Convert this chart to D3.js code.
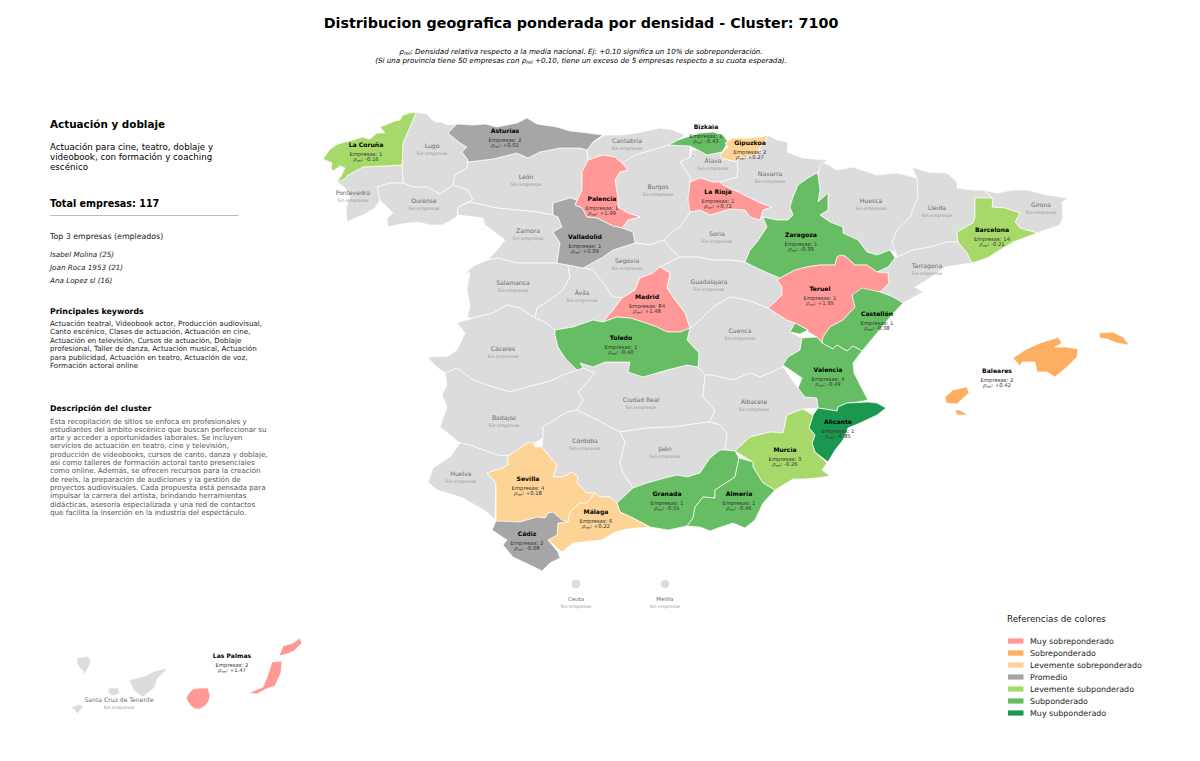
<!DOCTYPE html>
<html><head><meta charset="utf-8">
<script src="https://cdn.jsdelivr.net/npm/d3@7/dist/d3.min.js"></script>
<style>html,body{margin:0;padding:0;background:#fff}svg{display:block}text{font-family:"DejaVu Sans",sans-serif}</style>
</head><body><svg id="c" width="1200" height="761"></svg>
<script>
const chartTitle = "Distribucion geografica ponderada por densidad - Cluster: 7100";
const provinces = ["La Coruña","Lugo","Asturias","Cantabria","Bizkaia","Gipuzkoa","Álava","Navarra","Pontevedra","Ourense","León","Palencia","Burgos","La Rioja","Huesca","Lleida","Girona","Zamora","Valladolid","Soria","Zaragoza","Barcelona","Segovia","Salamanca","Ávila","Madrid","Guadalajara","Teruel","Tarragona","Castellón","Cuenca","Cáceres","Toledo","Valencia","Baleares","Ciudad Real","Albacete","Alicante","Badajoz","Córdoba","Jaén","Murcia","Huelva","Sevilla","Granada","Almería","Málaga","Cádiz","Ceuta","Melilla","Las Palmas","Santa Cruz de Tenerife"];
const companies = [1,0,2,0,1,2,0,0,0,0,0,1,0,1,0,0,0,0,1,0,1,14,0,0,0,84,0,1,0,1,0,0,1,4,2,0,0,1,0,0,0,3,0,4,1,1,6,2,0,0,2,0];
const rho = [-0.16,null,0.02,null,-0.43,0.27,null,null,null,null,null,1.99,null,0.72,null,null,null,null,0.09,null,-0.39,-0.21,null,null,null,1.48,null,1.95,null,-0.38,null,null,-0.40,-0.49,0.42,null,null,-0.85,null,null,null,-0.26,null,0.18,-0.55,-0.46,0.22,-0.08,null,null,1.47,null];
const legendLabels = ["Muy sobreponderado","Sobreponderado","Levemente sobreponderado","Promedio","Levemente subponderado","Subponderado","Muy subponderado"];
const legendColors = ["#ff9896","#fdae61","#fed496","#a6a6a6","#a6d96a","#66bd63","#1a9850"];
const classLimits = [0.5,0.3,0.1,-0.1,-0.3,-0.7];
const emptyColor = "#dcdcdc";

// Province outlines, in map units.
const shapes = {
"La Coruña":[[[416,112],[410,113],[403,115],[400,120],[395,121],[388,124],[380,127],[385,133],[377,133],[370,139],[362,137],[353,140],[345,142],[338,144],[330,149],[326,155],[323,159],[332,163],[331,168],[333,171],[340,166],[345,168],[341,176],[337,182],[343,180],[348,175],[363,167],[383,166],[402,165],[403,143],[413,120]]],
"Lugo":[[[416,112],[427,114],[431,119],[435,122],[441,122],[448,125],[457,124],[448,133],[460,143],[467,147],[462,152],[468,160],[467,168],[455,175],[453,185],[440,194],[427,187],[413,187],[403,183],[402,165],[403,143],[413,120]]],
"Pontevedra":[[[402,165],[383,166],[363,167],[348,175],[337,182],[345,188],[350,197],[346,208],[347,222],[355,218],[363,215],[375,208],[380,200],[377,187],[390,183],[403,183]]],
"Ourense":[[[377,187],[390,183],[403,183],[413,187],[427,187],[440,194],[453,185],[468,190],[473,200],[458,207],[457,217],[442,225],[430,225],[417,222],[402,224],[388,227],[387,218],[393,213],[380,200]]],
"Asturias":[[[448,133],[457,124],[473,125],[485,124],[497,127],[517,123],[527,118],[537,124],[557,127],[570,131],[580,132],[603,135],[593,142],[587,150],[580,148],[560,148],[540,152],[528,158],[517,153],[493,159],[468,162],[468,160],[462,152],[467,147],[460,143]]],
"León":[[[468,162],[493,159],[517,153],[528,158],[540,152],[560,148],[580,148],[587,150],[588,160],[582,172],[582,190],[575,205],[577,200],[570,198],[553,203],[553,215],[537,212],[497,208],[470,202],[458,207],[473,200],[468,190],[453,185],[455,175],[467,168]]],
"Palencia":[[[603,155],[615,157],[622,163],[628,170],[620,172],[615,180],[618,198],[618,207],[628,213],[640,217],[628,220],[622,228],[613,226],[597,218],[587,217],[582,208],[575,205],[582,190],[582,172],[588,160]]],
"Zamora":[[[458,207],[470,202],[497,208],[537,212],[553,215],[558,217],[562,227],[553,232],[560,243],[557,263],[537,263],[517,263],[497,258],[488,260],[497,250],[505,240],[485,225],[483,218],[458,215]]],
"Valladolid":[[[553,203],[570,198],[577,200],[575,205],[582,208],[587,217],[597,218],[613,226],[622,228],[633,232],[635,243],[613,250],[603,257],[583,268],[568,265],[557,263],[560,243],[553,232],[562,227],[558,217],[553,215]]],
"Segovia":[[[635,243],[650,245],[664,240],[672,250],[680,257],[660,267],[653,273],[640,278],[635,290],[622,298],[613,297],[603,283],[593,270],[583,268],[603,257],[613,250]]],
"Burgos":[[[628,170],[622,163],[635,155],[653,150],[669,145],[690,146],[690,157],[680,162],[690,177],[690,182],[688,200],[690,212],[680,227],[672,232],[664,240],[650,245],[635,243],[633,232],[622,228],[628,220],[640,217],[628,213],[618,207],[618,198],[615,180],[620,172]]],
"La Rioja":[[[690,182],[700,178],[713,182],[720,182],[723,185],[740,193],[760,203],[772,207],[763,210],[760,220],[750,217],[745,210],[730,209],[717,213],[710,215],[700,210],[690,212],[688,200]]],
"Cantabria":[[[592,143],[605,135],[620,135],[637,133],[660,128],[673,130],[685,135],[678,140],[669,145],[653,150],[635,155],[628,170],[622,163],[615,157],[603,155],[588,160],[587,150]]],
"Bizkaia":[[[669,145],[678,140],[687,137],[700,133],[713,132],[723,135],[728,142],[722,152],[707,155],[698,150],[690,146]],[[691,154],[695,156],[693,158]]],
"Gipuzkoa":[[[725,143],[733,138],[747,138],[762,137],[768,135],[765,142],[760,147],[757,155],[740,158],[737,162],[722,158],[720,155],[728,147]]],
"Álava":[[[690,157],[692,150],[698,150],[707,155],[722,152],[720,155],[722,158],[737,162],[738,168],[737,177],[720,182],[713,182],[700,178],[690,182],[690,177],[680,162]]],
"Navarra":[[[737,162],[740,158],[757,155],[760,147],[765,142],[768,135],[777,140],[788,142],[787,152],[803,158],[827,160],[820,167],[818,175],[817,173],[808,178],[798,185],[793,197],[790,207],[793,215],[788,220],[777,220],[763,217],[760,220],[763,210],[772,207],[760,203],[740,193],[723,185],[720,182],[737,177],[738,168]],[[803,190],[809,187],[811,191],[805,192]]],
"Zaragoza":[[[817,173],[818,175],[820,190],[818,202],[828,193],[828,210],[820,215],[830,222],[843,227],[843,233],[858,240],[867,252],[877,255],[890,250],[895,258],[888,267],[877,272],[867,265],[855,265],[845,256],[837,257],[835,265],[820,265],[807,267],[795,270],[780,278],[768,273],[757,268],[745,262],[750,250],[757,242],[767,227],[763,217],[777,220],[788,220],[793,215],[790,207],[793,197],[798,185],[808,178]]],
"Teruel":[[[840,255],[845,256],[855,265],[867,265],[877,272],[888,273],[889,283],[880,292],[863,290],[852,295],[855,307],[843,320],[830,327],[823,337],[822,343],[817,337],[808,332],[808,330],[795,323],[787,320],[768,308],[775,302],[782,295],[782,287],[777,280],[780,278],[795,270],[807,267],[820,265],[835,265],[837,257]]],
"Castellón":[[[862,288],[880,292],[893,297],[903,303],[890,317],[877,333],[862,351],[853,346],[847,351],[837,345],[833,349],[822,343],[823,337],[830,327],[843,320],[855,307],[852,295]]],
"Valencia":[[[802,338],[817,337],[822,343],[833,349],[837,345],[847,351],[853,346],[862,351],[853,363],[854,373],[860,385],[868,400],[858,402],[847,403],[838,407],[837,411],[818,408],[817,398],[805,397],[798,388],[802,378],[783,365],[788,357],[800,350]],[[795,323],[808,330],[800,334],[790,332]]],
"Alicante":[[[818,408],[837,411],[838,407],[847,403],[868,402],[877,403],[886,408],[877,415],[860,423],[848,428],[843,440],[835,450],[828,462],[815,452],[812,443],[815,435],[809,428],[813,415]]],
"Murcia":[[[803,409],[813,415],[809,428],[815,435],[812,443],[815,452],[827,463],[822,470],[830,476],[817,478],[803,479],[793,479],[775,490],[763,483],[753,467],[753,462],[735,451],[750,437],[770,432],[783,433],[787,415]]],
"Albacete":[[[712,375],[733,380],[750,373],[760,377],[783,367],[798,388],[805,397],[817,398],[818,408],[803,409],[787,415],[783,433],[770,432],[750,437],[735,451],[725,450],[727,433],[720,425],[710,422],[715,410],[703,397],[705,375]]],
"Ciudad Real":[[[580,363],[593,367],[605,362],[630,362],[628,372],[643,377],[667,370],[687,365],[698,367],[705,375],[703,397],[715,410],[710,422],[700,423],[673,427],[647,428],[620,432],[597,420],[577,410],[583,400],[578,392],[585,385],[595,373],[583,368]]],
"Cuenca":[[[697,323],[713,307],[730,297],[747,300],[768,308],[787,320],[795,323],[790,332],[802,338],[800,350],[788,357],[783,367],[760,377],[750,373],[733,380],[712,375],[705,375],[698,367],[699,353],[687,340],[690,328]]],
"Guadalajara":[[[660,267],[670,273],[667,288],[675,300],[685,313],[690,328],[697,323],[713,307],[730,297],[747,300],[768,308],[775,302],[782,295],[782,287],[777,280],[780,278],[768,273],[757,268],[745,262],[730,260],[713,260],[697,257],[680,257]]],
"Soria":[[[664,240],[672,232],[680,227],[690,212],[700,210],[710,215],[717,213],[730,209],[745,210],[750,217],[760,220],[763,217],[767,227],[757,242],[750,250],[745,262],[730,260],[713,260],[697,257],[680,257],[672,250]]],
"Madrid":[[[660,267],[670,273],[667,288],[675,300],[685,313],[690,328],[680,332],[667,332],[657,327],[643,322],[630,318],[617,317],[603,322],[613,310],[622,298],[635,290],[640,278],[653,273]]],
"Ávila":[[[568,265],[583,268],[593,270],[603,283],[613,297],[622,298],[613,310],[603,322],[593,320],[573,327],[555,330],[545,322],[535,318],[537,308],[550,300],[563,290],[570,277]]],
"Salamanca":[[[463,275],[475,265],[488,260],[497,258],[517,263],[537,263],[557,263],[568,265],[570,277],[563,290],[550,300],[537,308],[535,318],[520,308],[507,305],[493,313],[473,318],[467,318],[470,307],[467,290],[470,272]]],
"Cáceres":[[[457,323],[473,318],[493,313],[507,305],[520,308],[535,318],[545,322],[555,330],[555,335],[558,347],[565,358],[577,370],[563,375],[553,380],[543,383],[527,387],[510,392],[493,387],[473,380],[457,368],[445,373],[438,368],[427,357],[448,356],[457,350],[465,333]]],
"Toledo":[[[555,330],[573,327],[593,320],[603,322],[617,317],[630,318],[643,322],[657,327],[667,332],[680,332],[690,328],[687,340],[699,353],[698,367],[687,365],[667,370],[643,377],[628,372],[630,362],[605,362],[593,367],[580,363],[583,368],[577,370],[565,358],[558,347],[555,335]]],
"Badajoz":[[[445,373],[457,368],[473,380],[493,387],[510,392],[527,387],[543,383],[553,380],[563,375],[577,370],[583,368],[595,373],[585,385],[578,392],[583,400],[577,410],[567,412],[543,427],[543,438],[535,443],[527,443],[520,448],[508,456],[497,455],[470,445],[460,443],[440,427],[447,407],[442,395],[447,385]]],
"Huelva":[[[460,443],[470,445],[497,455],[508,456],[508,465],[502,468],[487,473],[496,483],[495,520],[487,512],[463,498],[437,490],[428,482],[433,468],[450,457]]],
"Sevilla":[[[508,456],[520,448],[527,443],[533,442],[535,447],[542,447],[548,455],[557,465],[553,477],[563,477],[572,472],[578,477],[577,483],[587,493],[595,493],[587,503],[580,503],[570,512],[568,522],[562,520],[553,512],[548,513],[545,518],[537,517],[520,522],[496,522],[496,483],[487,473],[502,468],[508,465]]],
"Cádiz":[[[496,521],[520,522],[537,517],[545,518],[548,513],[553,512],[562,520],[568,522],[558,523],[557,535],[548,540],[558,552],[560,558],[550,563],[542,571],[530,565],[513,557],[503,545],[507,540],[492,530]]],
"Málaga":[[[595,493],[600,497],[610,497],[617,503],[620,512],[633,518],[650,527],[627,529],[615,532],[602,540],[583,542],[573,543],[562,552],[548,540],[557,535],[558,523],[568,522],[570,512],[580,503],[587,503]]],
"Córdoba":[[[543,427],[567,412],[577,410],[597,420],[620,432],[625,442],[620,463],[623,473],[633,488],[617,503],[610,497],[600,497],[595,493],[587,493],[577,483],[578,477],[572,472],[563,477],[553,477],[557,465],[548,455],[542,447],[543,438]]],
"Jaén":[[[620,432],[647,428],[673,427],[700,423],[710,422],[720,425],[727,433],[725,450],[720,450],[710,458],[700,473],[687,477],[677,475],[665,478],[647,483],[633,488],[623,473],[620,463],[625,442]]],
"Granada":[[[633,488],[647,483],[665,478],[677,475],[687,477],[700,473],[710,458],[720,450],[725,450],[735,451],[739,458],[735,477],[715,490],[715,498],[703,497],[695,507],[693,518],[687,526],[668,530],[650,527],[633,518],[620,512],[617,503]]],
"Almería":[[[739,458],[753,462],[753,467],[763,483],[775,490],[763,503],[755,520],[745,528],[733,523],[718,528],[710,531],[700,527],[687,526],[693,518],[695,507],[703,497],[715,498],[715,490],[735,477]]],
"Huesca":[[[823,162],[837,170],[853,167],[877,175],[897,173],[917,178],[918,197],[910,217],[897,230],[892,242],[897,253],[890,250],[877,255],[867,252],[858,240],[843,233],[843,227],[830,222],[820,215],[828,210],[828,193],[818,202],[820,190],[818,175],[820,167]]],
"Lleida":[[[912,167],[927,172],[947,173],[957,182],[957,188],[973,190],[983,190],[993,198],[975,198],[975,217],[973,223],[957,232],[958,242],[947,242],[930,247],[913,250],[897,257],[892,242],[897,230],[910,217],[918,197],[917,178]]],
"Barcelona":[[[975,198],[993,198],[992,207],[1005,208],[1020,213],[1015,222],[1020,228],[1037,233],[1013,242],[1000,250],[987,258],[972,263],[967,253],[958,242],[957,232],[973,223],[975,217]]],
"Girona":[[[983,190],[997,193],[1013,190],[1027,190],[1047,195],[1068,198],[1062,202],[1063,217],[1060,225],[1037,233],[1020,228],[1015,222],[1020,213],[1005,208],[992,207],[993,198]]],
"Tarragona":[[[897,257],[913,250],[930,247],[947,242],[958,242],[967,253],[972,263],[945,267],[927,280],[915,287],[923,292],[903,303],[893,297],[880,292],[889,283],[888,273],[877,272],[888,267],[895,258]]],
"Baleares":[[[1013,358],[1025,350],[1040,343],[1053,339],[1058,337],[1062,343],[1055,347],[1067,347],[1078,349],[1077,357],[1067,367],[1055,377],[1047,372],[1037,372],[1035,362],[1022,362],[1020,366]],[[1099,333],[1113,332],[1123,337],[1129,345],[1117,343],[1107,339],[1100,338]],[[945,397],[953,390],[967,387],[969,393],[957,404],[946,403]],[[955,410],[960,410],[968,415],[957,415]]],
"Santa Cruz de Tenerife":[[[129,680],[145,676],[155,671],[168,668],[158,678],[154,688],[143,697],[134,691]],[[77,658],[88,656],[91,662],[85,674],[77,664]],[[109,688],[118,688],[120,693],[113,696],[108,692]],[[70,708],[80,704],[83,707],[77,714],[75,710]]],
"Las Palmas":[[[186,698],[189,693],[193,689],[200,688],[208,688],[210,695],[209,701],[205,706],[200,709],[195,709],[190,705]],[[249,693],[263,687],[267,677],[272,662],[282,661],[281,673],[275,686],[266,689],[257,694]],[[279,656],[283,646],[293,643],[300,638],[302,643],[294,651],[287,654]]]
};
const towns = {"Ceuta":[576,584],"Melilla":[665,584]};
const labelAnchors = {"La Coruña":[366,145],"Lugo":[432,146],"Asturias":[505,131],"Cantabria":[627,141],"Bizkaia":[706,127],"Gipuzkoa":[750,143],"Álava":[713,161],"Navarra":[770,174],"Pontevedra":[353,193],"Ourense":[424,201],"León":[526,177],"Palencia":[602,199],"Burgos":[658,187],"La Rioja":[718,192],"Huesca":[871,201],"Lleida":[937,208],"Girona":[1041,205],"Zamora":[528,231],"Valladolid":[585,237],"Soria":[717,234],"Zaragoza":[801,235],"Barcelona":[992,230],"Segovia":[627,261],"Salamanca":[513,283],"Ávila":[582,293],"Madrid":[647,297],"Guadalajara":[709,282],"Teruel":[820,289],"Tarragona":[927,266],"Castellón":[877,314],"Cuenca":[740,331],"Cáceres":[503,349],"Toledo":[621,338],"Valencia":[828,370],"Baleares":[997,371],"Ciudad Real":[641,400],"Albacete":[754,402],"Alicante":[838,422],"Badajoz":[504,418],"Córdoba":[585,441],"Jaén":[665,449],"Murcia":[785,450],"Huelva":[461,474],"Sevilla":[528,479],"Granada":[667,494],"Almería":[739,494],"Málaga":[596,512],"Cádiz":[527,534],"Ceuta":[576,599],"Melilla":[665,599],"Las Palmas":[232,656],"Santa Cruz de Tenerife":[119,700]};

const clusterName = "Actuación y doblaje";
const clusterDesc = ["Actuación para cine, teatro, doblaje y","videobook, con formación y coaching","escénico"];
const totalLabel = "Total empresas: 117";
const topTitle = "Top 3 empresas (empleados)";
const topCompanies = ["Isabel Molina (25)","Joan Roca 1953 (21)","Ana Lopez sl (16)"];
const keywordLines = ["Actuación teatral, Videobook actor, Producción audiovisual,","Canto escénico, Clases de actuación, Actuación en cine,","Actuación en televisión, Cursos de actuación, Doblaje","profesional, Taller de danza, Actuación musical, Actuación","para publicidad, Actuación en teatro, Actuación de voz,","Formación actoral online"];
const descriptionLines = ["Esta recopilación de sitios se enfoca en profesionales y","estudiantes del ámbito escénico que buscan perfeccionar su","arte y acceder a oportunidades laborales. Se incluyen","servicios de actuación en teatro, cine y televisión,","producción de videobooks, cursos de canto, danza y doblaje,","así como talleres de formación actoral tanto presenciales","como online. Además, se ofrecen recursos para la creación","de reels, la preparación de audiciones y la gestión de","proyectos audiovisuales. Cada propuesta está pensada para","impulsar la carrera del artista, brindando herramientas","didácticas, asesoría especializada y una red de contactos","que facilita la inserción en la industria del espectáculo."];

const svg = d3.select("#c");
const projection = d3.geoIdentity();
const path = d3.geoPath(projection);
const colorOf = v => {
  if (v === null) return emptyColor;
  const i = classLimits.findIndex(t => v > t);
  return legendColors[i < 0 ? legendColors.length - 1 : i];
};
const table = provinces.map((name, i) => ({name, n: companies[i], r: rho[i], geo: shapes[name]}));

svg.append("g").selectAll("path")
  .data(table.filter(d => d.geo).sort((a, b) => (a.r !== null) - (b.r !== null)))
  .join("path")
  .attr("d", d => path({type: "MultiPolygon", coordinates: d.geo.map(r => [[...r, r[0]]])}))
  .attr("fill", d => colorOf(d.r))
  .attr("stroke", "#fff").attr("stroke-width", 0.7).attr("stroke-linejoin", "round");

svg.append("g").selectAll("circle")
  .data(Object.entries(towns)).join("circle")
  .attr("cx", d => projection(d[1])[0]).attr("cy", d => projection(d[1])[1])
  .attr("r", 4.2).attr("fill", emptyColor);

const rhoText = (sel, suffix, size) => {
  sel.append("tspan").attr("font-style", "italic").text("ρ");
  sel.append("tspan").attr("font-style", "italic").attr("font-size", size * 0.7).attr("dy", size * 0.2).text("rel");
  sel.append("tspan").attr("dy", -size * 0.2).text(suffix);
};
const fmt = v => (v >= 0 ? "+" : "-") + Math.abs(v).toFixed(2);
const labels = svg.append("g").attr("text-anchor", "middle");
table.forEach(d => {
  const [x, y] = projection(labelAnchors[d.name]);
  const small = d.name === "Ceuta" || d.name === "Melilla";
  if (d.r === null) {
    labels.append("text").attr("x", x).attr("y", y + 2.2).attr("font-size", small ? 5.4 : 6.1).attr("fill", "#6a6a6a").text(d.name);
    labels.append("text").attr("x", x).attr("y", y + 9).attr("font-size", 4.6).attr("fill", "#989898").text("Sin empresas");
  } else {
    labels.append("text").attr("x", x).attr("y", y + 2.2).attr("font-size", 6.1).attr("font-weight", "bold").attr("fill", "#000").text(d.name);
    labels.append("text").attr("x", x).attr("y", y + 10.5).attr("font-size", 5.3).attr("fill", "#333").text("Empresas: " + d.n);
    rhoText(labels.append("text").attr("x", x).attr("y", y + 16.3).attr("font-size", 5.3).attr("fill", "#333"), ": " + fmt(d.r), 5.3);
  }
});

const T = (x, y, s, size, o = {}) => svg.append("text").attr("x", x).attr("y", y).attr("font-size", size)
  .attr("fill", o.fill || "#000").attr("font-weight", o.bold ? "bold" : null).attr("font-style", o.italic ? "italic" : null)
  .attr("text-anchor", o.anchor || null).text(s);

T(581, 28, chartTitle, 14.3, {bold: true, anchor: "middle"});
const sub1 = svg.append("text").attr("x", 581).attr("y", 54).attr("font-size", 7.15).attr("font-style", "italic").attr("text-anchor", "middle");
rhoText(sub1, ": Densidad relativa respecto a la media nacional. Ej: +0.10 significa un 10% de sobreponderación.", 7.15);
const sub2 = svg.append("text").attr("x", 581).attr("y", 63).attr("font-size", 7.15).attr("font-style", "italic").attr("text-anchor", "middle");
sub2.append("tspan").text("(Si una provincia tiene 50 empresas con ");
rhoText(sub2, " +0.10, tiene un exceso de 5 empresas respecto a su cuota esperada).", 7.15);

T(50, 128, clusterName, 10.4, {bold: true});
clusterDesc.forEach((s, i) => T(50, 150 + i * 10, s, 8.7));
T(50, 207, totalLabel, 9.6, {bold: true});
svg.append("line").attr("x1", 50).attr("x2", 238.5).attr("y1", 215.5).attr("y2", 215.5).attr("stroke", "#aaa").attr("stroke-width", 0.8);
T(50, 239, topTitle, 7.85, {fill: "#222"});
topCompanies.forEach((s, i) => T(50, 256.5 + i * 13.3, s, 7.2, {italic: true, fill: "#222"}));
T(50, 314, "Principales keywords", 7.85, {bold: true});
keywordLines.forEach((s, i) => T(50, 326 + i * 8.45, s, 7.13, {fill: "#222"}));
T(50, 411, "Descripción del cluster", 7.85, {bold: true});
descriptionLines.forEach((s, i) => T(50, 423.5 + i * 8.3, s, 7.13, {fill: "#555"}));

T(1007, 622, "Referencias de colores", 8.75, {fill: "#222"});
const ly = d3.scalePoint().domain(legendLabels).range([641, 713]);
legendLabels.forEach((s, i) => {
  svg.append("rect").attr("x", 1008).attr("y", ly(s) - 2.6).attr("width", 15.5).attr("height", 5.2).attr("fill", legendColors[i]);
  T(1030, ly(s) + 3, s, 7.95, {fill: "#222"});
});
</script></body></html>
